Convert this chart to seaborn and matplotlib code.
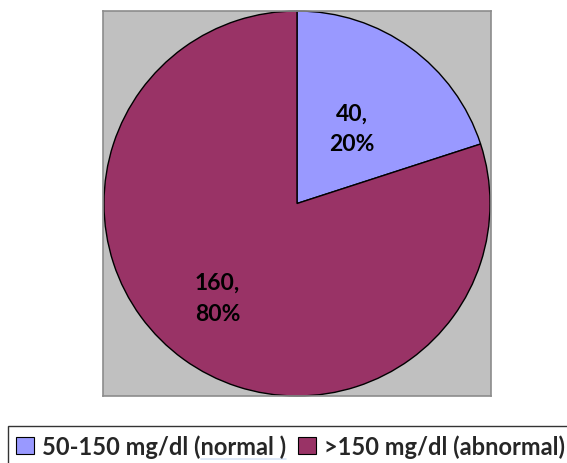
import numpy as np
import matplotlib
matplotlib.use("Agg")
import matplotlib.pyplot as plt
import seaborn as sns
from matplotlib.patches import Patch
from matplotlib.lines import Line2D

categories = ["50-150 mg/dl (normal )", ">150 mg/dl (abnormal)"]
counts = [40, 160]
percents = [20, 80]
colors = ["#9999FF", "#993366"]

sns.set_theme(style="white")
plt.rcParams["font.family"] = ["Lato", "DejaVu Sans"]

fig = plt.figure(figsize=(5.67, 4.64), dpi=100)
W, H = 567, 464
ax = fig.add_axes([103 / W, 1 - 397 / H, 388 / W, 385 / H])
ax.set_facecolor("#C0C0C0")

wedges, _ = ax.pie(
    counts, colors=colors, startangle=90, counterclock=False, radius=1.0,
    wedgeprops=dict(edgecolor="black", linewidth=1.0), frame=True,
)
ax.set_aspect("auto")
ax.set_xlim(-1.005, 1.005)
ax.set_ylim(-1.0, 1.0)
ax.set_xticks([])
ax.set_yticks([])
for s in ax.spines.values():
    s.set_color("#8C8C8C")
    s.set_linewidth(1.2)

# value labels placed inside each wedge
label_radius = [0.48, 0.64]
label_shift = [0, -4]
for w, c, p, r, sh in zip(wedges, counts, percents, label_radius, label_shift):
    mid = np.deg2rad((w.theta1 + w.theta2) / 2 + sh)
    ax.text(r * np.cos(mid), r * np.sin(mid), f"{c},\n{p}%",
            ha="center", va="center", fontsize=16.5, fontweight="bold",
            linespacing=1.55, color="black")

handles = [Patch(facecolor=col, edgecolor="black", linewidth=0.8) for col in colors]
leg = fig.legend(
    handles, categories, loc="upper left", bbox_to_anchor=(8 / W, 1 - 427 / H),
    ncol=2, frameon=True, fancybox=False,
    prop=dict(weight="bold", size=17), handlelength=0.75, handleheight=0.75,
    handletextpad=0.35, columnspacing=0.5, borderpad=0.35, borderaxespad=0,
)
leg.get_frame().set_edgecolor("black")
leg.get_frame().set_linewidth(1.0)

# blue underline below the word "normal" in the first legend entry
fig.canvas.draw()
renderer = fig.canvas.get_renderer()
t0 = leg.get_texts()[0]
bb = t0.get_window_extent(renderer)
full = categories[0]
start = full.index("normal")
def text_width(s):
    tmp = fig.text(0, 0, s, fontproperties=t0.get_fontproperties())
    wpx = tmp.get_window_extent(renderer).width
    tmp.remove()
    return wpx
x_a = bb.x0 + text_width(full[:start])
x_b = bb.x0 + text_width(full)
y_u = bb.y0 - 1
fig.add_artist(Line2D([x_a / W, x_b / W], [y_u / H, y_u / H],
                      transform=fig.transFigure, color="#3C78D8", linewidth=1.2))

fig.savefig("out.png", dpi=100)
